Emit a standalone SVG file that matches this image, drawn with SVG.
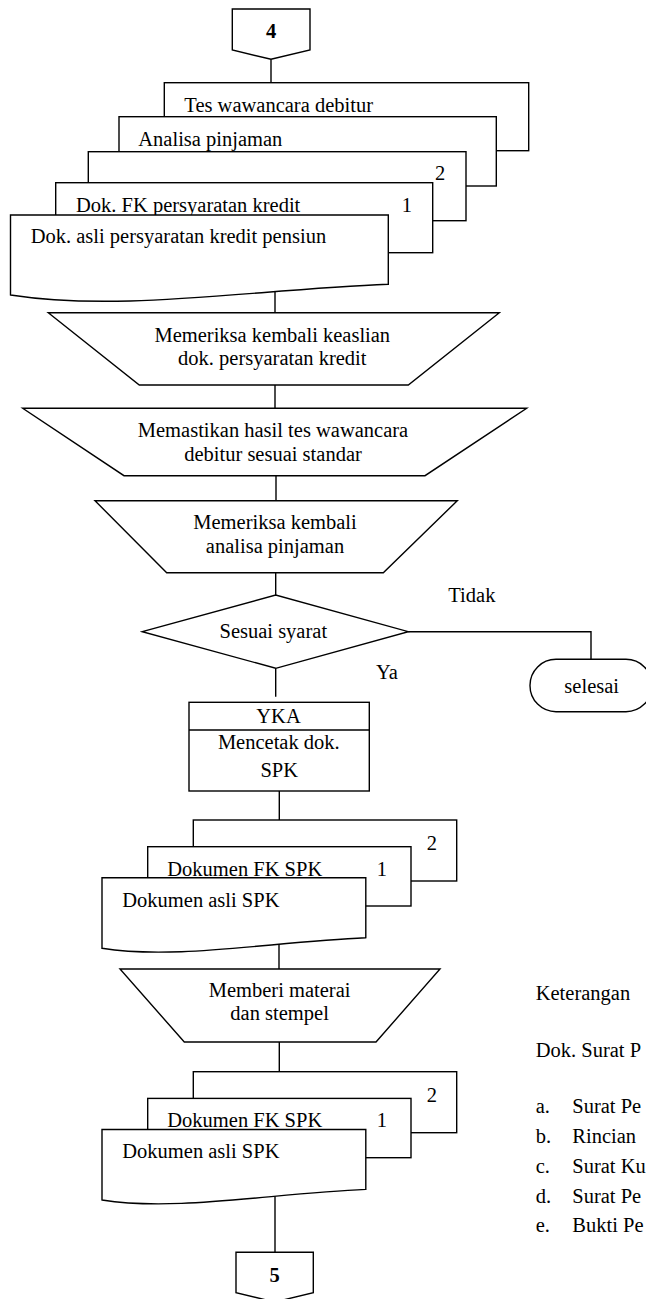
<svg xmlns="http://www.w3.org/2000/svg" width="646" height="1299" viewBox="0 0 646 1299">
  <style>
    .s { fill: #fff; stroke: #000; stroke-width: 1.4; stroke-linejoin: miter; }
    .ln { fill: none; stroke: #000; stroke-width: 1.4; }
    text { font-family: "Liberation Serif", "Times New Roman", serif; font-size: 20.5px; fill: #000; }
    .c { text-anchor: middle; }
    .b { font-weight: bold; }
  </style>
  <rect width="646" height="1299" fill="#fff"/>

  <!-- connectors -->
  <g id="connectors" class="ln">
    <line x1="271" y1="59.3" x2="271" y2="82.7"/>
    <line x1="275" y1="291" x2="275" y2="312.7"/>
    <line x1="275" y1="385" x2="275" y2="408.3"/>
    <line x1="276" y1="475.7" x2="276" y2="500.7"/>
    <line x1="275.7" y1="572.7" x2="275.7" y2="595"/>
    <polyline points="408.3,631.7 591,631.7 591,659.3"/>
    <line x1="275.7" y1="668.3" x2="275.7" y2="696.7"/>
    <line x1="279.3" y1="791" x2="279.3" y2="820"/>
    <line x1="279" y1="941" x2="279" y2="969"/>
    <line x1="279.3" y1="1042" x2="279.3" y2="1072"/>
    <line x1="275" y1="1192.5" x2="275" y2="1252.3"/>
  </g>

  <!-- off-page connector 4 -->
  <g id="conn-4">
    <polygon class="s" points="232.3,9 310,9 310,50 271,59.3 232.3,50"/>
    <text class="c b" x="271" y="38.3">4</text>
  </g>

  <!-- input document stack -->
  <g id="docs-input">
    <rect class="s" x="164.3" y="82.7" width="364.4" height="68"/>
    <text x="184.3" y="111.7">Tes wawancara debitur</text>
    <rect class="s" x="119" y="116.7" width="377.3" height="69.3"/>
    <text x="138.3" y="145.7">Analisa pinjaman</text>
    <rect class="s" x="88.3" y="151.7" width="377.7" height="69"/>
    <text x="435" y="180">2</text>
    <rect class="s" x="55.7" y="182.7" width="377" height="70"/>
    <text x="76" y="211.7">Dok. FK persyaratan kredit</text>
    <text x="401.7" y="211.7">1</text>
    <path class="s" d="M10.5,215 H388.3 V284.3 C250,290 120,312 10.5,295 Z"/>
    <text x="30.7" y="243.3">Dok. asli persyaratan kredit pensiun</text>
  </g>

  <!-- manual operations -->
  <g id="op-keaslian">
    <polygon class="s" points="48.3,312.7 499.3,312.7 408.3,385 139.3,385"/>
    <text class="c" x="272.3" y="341.7">Memeriksa kembali keaslian</text>
    <text class="c" x="272.3" y="365">dok. persyaratan kredit</text>
  </g>
  <g id="op-wawancara">
    <polygon class="s" points="22.7,408.3 526.7,408.3 425,475.7 124,475.7"/>
    <text class="c" x="273" y="436.7">Memastikan hasil tes wawancara</text>
    <text class="c" x="273" y="460.7">debitur sesuai standar</text>
  </g>
  <g id="op-analisa">
    <polygon class="s" points="95,500.7 457.3,500.7 383.3,572.7 166.7,572.7"/>
    <text class="c" x="275" y="529.3">Memeriksa kembali</text>
    <text class="c" x="275" y="553.3">analisa pinjaman</text>
  </g>

  <!-- decision -->
  <g id="decision">
    <polygon class="s" points="142.3,631.7 275.7,595 408.3,631.7 275.7,668.3"/>
    <text class="c" x="273.3" y="637.7">Sesuai syarat</text>
    <text x="448.3" y="602.3">Tidak</text>
    <text x="376" y="679.3">Ya</text>
  </g>

  <!-- terminator -->
  <g id="end">
    <rect class="s" x="530" y="659.3" width="122" height="52.4" rx="26" ry="26"/>
    <text class="c" x="591.7" y="693.3">selesai</text>
  </g>

  <!-- process YKA -->
  <g id="proc-yka">
    <rect class="s" x="189" y="702.3" width="180.3" height="88.7"/>
    <line class="ln" x1="189" y1="730" x2="369.3" y2="730"/>
    <text class="c" x="278.5" y="723.3">YKA</text>
    <text class="c" x="278.8" y="749.3">Mencetak dok.</text>
    <text class="c" x="279.2" y="776.7">SPK</text>
  </g>

  <!-- SPK document stack -->
  <g id="docs-spk">
    <rect class="s" x="193.3" y="820" width="263.4" height="61"/>
    <text x="426.7" y="850">2</text>
    <rect class="s" x="147.7" y="846.7" width="263.3" height="59.3"/>
    <text x="167.3" y="875.7">Dokumen FK SPK</text>
    <text x="376.7" y="875.7">1</text>
    <path class="s" d="M102,877.8 H365.8 V937.7 C270,942 175,960 102,948.3 Z"/>
    <text x="122.3" y="906.7">Dokumen asli SPK</text>
  </g>

  <g id="op-materai">
    <polygon class="s" points="120,969 440,969 376,1042 184.3,1042"/>
    <text class="c" x="279.6" y="996.7">Memberi materai</text>
    <text class="c" x="279.6" y="1020">dan stempel</text>
  </g>

  <!-- stamped SPK document stack -->
  <g id="docs-spk-stamped" transform="translate(0,251.7)">
    <rect class="s" x="193.3" y="820" width="263.4" height="61"/>
    <text x="426.7" y="850">2</text>
    <rect class="s" x="147.7" y="846.7" width="263.3" height="59.3"/>
    <text x="167.3" y="875.7">Dokumen FK SPK</text>
    <text x="376.7" y="875.7">1</text>
    <path class="s" d="M102,877.8 H365.8 V937.7 C270,942 175,960 102,948.3 Z"/>
    <text x="122.3" y="906.7">Dokumen asli SPK</text>
  </g>

  <!-- off-page connector 5 -->
  <g id="conn-5">
    <polygon class="s" points="236,1252.3 313.3,1252.3 313.3,1292.7 274.7,1302 236,1292.7"/>
    <text class="c b" x="274.5" y="1281.7">5</text>
  </g>

  <!-- legend, running off the right margin -->
  <g id="legend">
    <text x="535.7" y="1000">Keterangan</text>
    <text x="535.7" y="1056.7">Dok. Surat P</text>
    <text x="535.7" y="1113">a.</text><text x="572.3" y="1113">Surat Pe</text>
    <text x="535.7" y="1143">b.</text><text x="572.3" y="1143">Rincian</text>
    <text x="535.7" y="1172.5">c.</text><text x="572.3" y="1172.5">Surat Ku</text>
    <text x="535.7" y="1202.5">d.</text><text x="572.3" y="1202.5">Surat Pe</text>
    <text x="535.7" y="1232">e.</text><text x="572.3" y="1232">Bukti Pe</text>
  </g>
</svg>
